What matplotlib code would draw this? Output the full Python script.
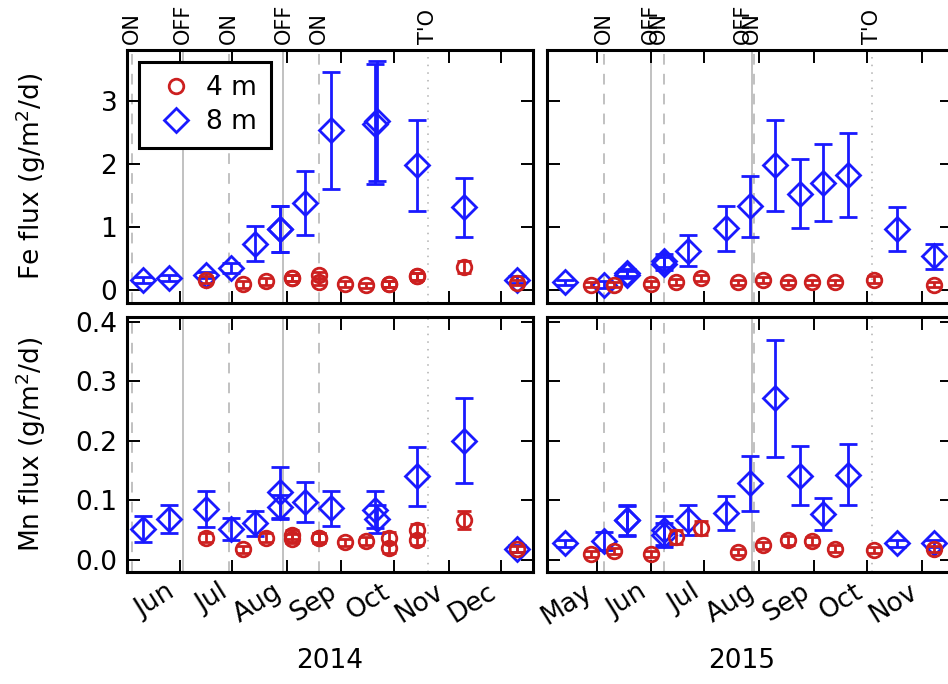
import numpy as np
import matplotlib
matplotlib.use('Agg')
import matplotlib.pyplot as plt
import matplotlib.dates as mdates
import matplotlib.transforms as mtransforms
from matplotlib.lines import Line2D

# 2014 - глубина 8 м
d8_2014 = ['2014-05-11', '2014-05-26', '2014-06-16', '2014-06-30', '2014-07-14', '2014-07-28',
           '2014-07-28', '2014-08-11', '2014-08-26', '2014-09-20', '2014-09-21', '2014-10-14',
           '2014-11-10', '2014-12-10']
fe8_2014 = [0.16, 0.19, 0.24, 0.35, 0.74, 0.97, 0.97, 1.38, 2.53, 2.63, 2.68, 1.98, 1.31, 0.17]
fe8_err_2014 = [0.05, 0.05, 0.05, 0.08, 0.27, 0.36, 0.36, 0.50, 0.92, 0.95, 0.95, 0.72, 0.47, 0.05]
mn8_2014 = [0.052, 0.068, 0.085, 0.051, 0.061, 0.113, 0.089, 0.097, 0.086, 0.084, 0.068, 0.140,
            0.200, 0.018]
mn8_err_2014 = [0.022, 0.024, 0.031, 0.019, 0.021, 0.043, 0.020, 0.034, 0.030, 0.031, 0.023,
                0.050, 0.072, 0.006]

# 2014 - глубина 4 м
d4_2014 = ['2014-06-16', '2014-07-07', '2014-07-20', '2014-08-04', '2014-08-04', '2014-08-19',
           '2014-08-19', '2014-09-03', '2014-09-15', '2014-09-28', '2014-09-28', '2014-10-14',
           '2014-10-14', '2014-11-10', '2014-12-10']
fe4_2014 = [0.17, 0.095, 0.14, 0.20, 0.20, 0.24, 0.13, 0.10, 0.08, 0.10, 0.10, 0.22, 0.22, 0.37, 0.12]
fe4_err_2014 = [0.06, 0.05, 0.05, 0.05, 0.05, 0.05, 0.05, 0.04, 0.04, 0.05, 0.05, 0.05, 0.05, 0.10, 0.04]
mn4_2014 = [0.037, 0.017, 0.037, 0.035, 0.042, 0.037, 0.036, 0.029, 0.031, 0.037, 0.019, 0.049,
            0.033, 0.066, 0.018]
mn4_err_2014 = [0.008, 0.006, 0.007, 0.008, 0.008, 0.008, 0.008, 0.006, 0.007, 0.009, 0.008,
                0.010, 0.009, 0.015, 0.005]

# 2015 - глубина 8 м
d8_2015 = ['2015-04-13', '2015-05-05', '2015-05-18', '2015-05-18', '2015-06-08', '2015-06-08',
           '2015-06-22', '2015-07-13', '2015-07-27', '2015-08-10', '2015-08-24', '2015-09-06',
           '2015-09-20', '2015-10-18', '2015-11-08']
fe8_2015 = [0.13, 0.09, 0.25, 0.28, 0.42, 0.47, 0.63, 0.98, 1.33, 1.98, 1.53, 1.70, 1.82, 0.97, 0.54]
fe8_err_2015 = [0.04, 0.05, 0.05, 0.05, 0.10, 0.10, 0.24, 0.36, 0.48, 0.72, 0.55, 0.61, 0.66, 0.35, 0.20]
mn8_2015 = [0.027, 0.031, 0.066, 0.066, 0.049, 0.041, 0.067, 0.078, 0.128, 0.271, 0.141, 0.076,
            0.143, 0.027, 0.027]
mn8_err_2015 = [0.006, 0.015, 0.026, 0.024, 0.025, 0.020, 0.025, 0.029, 0.046, 0.098, 0.050,
                0.027, 0.051, 0.006, 0.006]

# 2015 - глубина 4 м
d4_2015 = ['2015-04-28', '2015-05-11', '2015-06-01', '2015-06-15', '2015-06-29', '2015-07-20',
           '2015-08-03', '2015-08-17', '2015-08-31', '2015-09-13', '2015-10-05', '2015-11-08']
fe4_2015 = [0.09, 0.09, 0.10, 0.13, 0.19, 0.13, 0.16, 0.13, 0.13, 0.13, 0.17, 0.09]
fe4_err_2015 = [0.04, 0.04, 0.05, 0.05, 0.05, 0.04, 0.05, 0.04, 0.04, 0.04, 0.05, 0.04]
mn4_2015 = [0.010, 0.014, 0.010, 0.038, 0.053, 0.013, 0.024, 0.032, 0.031, 0.018, 0.016, 0.017]
mn4_err_2015 = [0.005, 0.005, 0.005, 0.012, 0.012, 0.005, 0.006, 0.007, 0.007, 0.006, 0.005, 0.005]

# События (включение/выключение, T'O)
ev_dates_2014 = ['2014-05-05', '2014-06-03', '2014-06-29', '2014-07-30', '2014-08-19', '2014-10-20']
ev_names_2014 = ['ON', 'OFF', 'ON', 'OFF', 'ON', "T'O"]
ev_dates_2015 = ['2015-05-05', '2015-06-01', '2015-06-08', '2015-07-28', '2015-07-29', '2015-10-04']
ev_names_2015 = ['ON', 'OFF', 'ON', 'OFF', 'ON', "T'O"]
ev_shift_2015 = [0, 0, -3, -5, -1, 0]  # сдвиг подписей, дни

BLUE = '#1a1aff'
RED = '#cc2020'
GREY = '#b0b0b0'
FS = 19
plt.rcParams['font.family'] = 'DejaVu Sans'

fig = plt.figure(figsize=(9.48, 6.84), dpi=100)
W, H = 948.0, 684.0


def make_ax(x0, x1, y0, y1):
    return fig.add_axes([x0 / W, 1 - y1 / H, (x1 - x0) / W, (y1 - y0) / H])


ax_fe14 = make_ax(127, 533, 50, 303)
ax_mn14 = make_ax(127, 533, 317, 572)
ax_fe15 = make_ax(547, 952, 50, 303)
ax_mn15 = make_ax(547, 952, 317, 572)


def dt(lst):
    return np.array(lst, dtype='datetime64[D]')


def draw(ax, d4, v4, e4, d8, v8, e8):
    ax.errorbar(dt(d8), v8, yerr=e8, fmt='none', ecolor=BLUE, elinewidth=2,
                capsize=6.5, capthick=2, zorder=3)
    ax.plot(dt(d8), v8, 'D', ms=12, mfc='none', mec=BLUE, mew=2, zorder=3)
    ax.errorbar(dt(d4), v4, yerr=e4, fmt='none', ecolor=RED, elinewidth=2,
                capsize=5, capthick=2, zorder=4)
    ax.plot(dt(d4), v4, 'o', ms=10.5, mfc='none', mec=RED, mew=2, zorder=4)


def events(ax, dates, names, label=False, shifts=None):
    styles = {'ON': (0, (7, 6)), 'OFF': '-', "T'O": (0, (1, 4))}
    trans = mtransforms.blended_transform_factory(ax.transData, ax.transAxes)
    for i, (d, n) in enumerate(zip(dt(dates), names)):
        ax.axvline(d, color=GREY, lw=1.1, ls=styles[n], zorder=1)
        if label:
            sh = shifts[i] if shifts is not None else 0
            ax.text(d + np.timedelta64(sh, 'D'), 1.025, n, transform=trans, rotation=90,
                    ha='center', va='bottom', fontsize=15)


draw(ax_fe14, d4_2014, fe4_2014, fe4_err_2014, d8_2014, fe8_2014, fe8_err_2014)
draw(ax_mn14, d4_2014, mn4_2014, mn4_err_2014, d8_2014, mn8_2014, mn8_err_2014)
draw(ax_fe15, d4_2015, fe4_2015, fe4_err_2015, d8_2015, fe8_2015, fe8_err_2015)
draw(ax_mn15, d4_2015, mn4_2015, mn4_err_2015, d8_2015, mn8_2015, mn8_err_2015)

events(ax_fe14, ev_dates_2014, ev_names_2014, label=True)
events(ax_mn14, ev_dates_2014, ev_names_2014)
events(ax_fe15, ev_dates_2015, ev_names_2015, label=True, shifts=ev_shift_2015)
events(ax_mn15, ev_dates_2015, ev_names_2015)

for ax in [ax_fe14, ax_mn14]:
    ax.set_xlim(np.datetime64('2014-05-02'), np.datetime64('2014-12-19'))
for ax in [ax_fe15, ax_mn15]:
    ax.set_xlim(np.datetime64('2015-04-03'), np.datetime64('2015-11-18'))
for ax in [ax_fe14, ax_fe15]:
    ax.set_ylim(-0.2, 3.8)
    ax.set_yticks([0, 1, 2, 3])
for ax in [ax_mn14, ax_mn15]:
    ax.set_ylim(-0.021, 0.408)
    ax.set_yticks([0.0, 0.1, 0.2, 0.3, 0.4])
    ax.yaxis.set_major_formatter(plt.FormatStrFormatter('%.1f'))

for ax in [ax_fe14, ax_mn14, ax_fe15, ax_mn15]:
    ax.xaxis.set_major_locator(mdates.MonthLocator())
    ax.xaxis.set_major_formatter(mdates.DateFormatter('%b'))
    ax.tick_params(direction='in', top=True, right=True, length=9, width=1.4,
                   labelsize=FS, pad=7)
    for s in ax.spines.values():
        s.set_linewidth(2.2)
        s.set_zorder(5)

for ax in [ax_fe14, ax_fe15]:
    ax.tick_params(labelbottom=False)
for ax in [ax_fe15, ax_mn15]:
    ax.tick_params(labelleft=False)
for ax in [ax_mn14, ax_mn15]:
    ax.tick_params(axis='x', pad=5)
    for lab in ax.get_xticklabels():
        lab.set_rotation(32)
        lab.set_ha('right')

ax_fe14.set_ylabel('Fe flux (g/m$^2$/d)', fontsize=FS)
ax_mn14.set_ylabel('Mn flux (g/m$^2$/d)', fontsize=FS)
ax_fe14.yaxis.set_label_coords(-0.195, 0.5)
ax_mn14.yaxis.set_label_coords(-0.195, 0.5)
ax_mn14.set_xlabel('2014', fontsize=FS)
ax_mn15.set_xlabel('2015', fontsize=FS)
ax_mn14.xaxis.set_label_coords(0.5, -0.30)
ax_mn15.xaxis.set_label_coords(0.48, -0.30)

handles = [Line2D([], [], ls='none', marker='o', ms=10.5, mfc='none', mec=RED, mew=2),
           Line2D([], [], ls='none', marker='D', ms=12, mfc='none', mec=BLUE, mew=2)]
leg = ax_fe14.legend(handles, ['4 m', '8 m'], loc='upper left', bbox_to_anchor=(0.03, 0.953),
                     borderaxespad=0, fontsize=FS, fancybox=False, framealpha=1,
                     edgecolor='black', handletextpad=0.25, borderpad=0.5, labelspacing=0.3,
                     handlelength=1.8)
leg.get_frame().set_linewidth(2.2)
leg.set_zorder(10)

fig.savefig('out.png', dpi=100)
